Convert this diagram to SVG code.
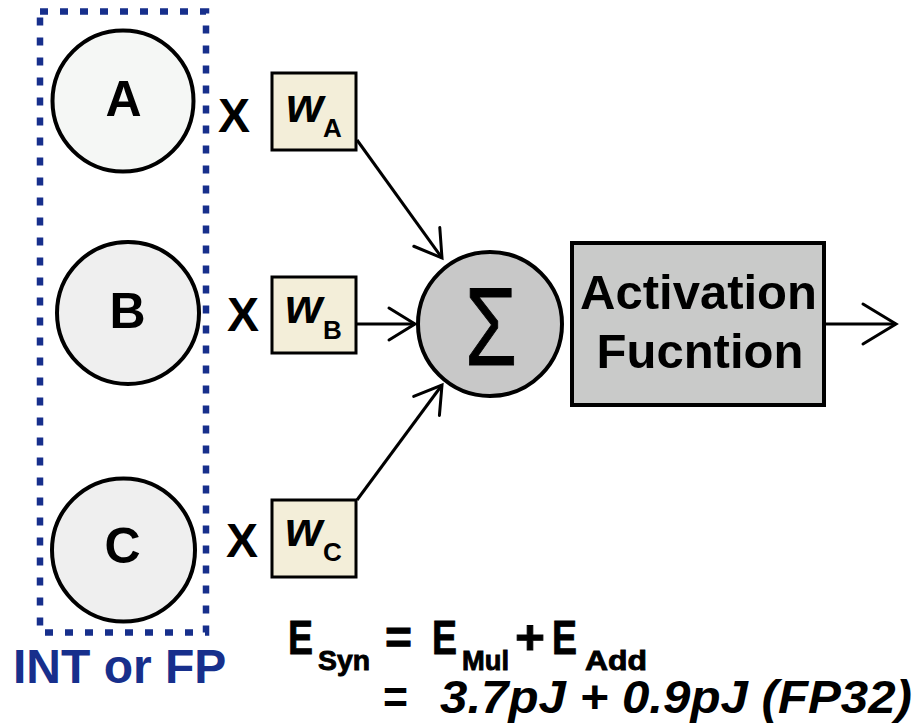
<svg xmlns="http://www.w3.org/2000/svg" width="920" height="724" viewBox="0 0 920 724">
<defs>
<style>
.t{font-family:"Liberation Sans",Arial,sans-serif;font-weight:bold;fill:#000}
.nar{stroke:#000;stroke-width:0.9}
.in{stroke:#000;stroke-width:4}
.wb{fill:#f3eed9;stroke:#000;stroke-width:3}
.con{stroke:#000;stroke-width:3;fill:none}
.ah{stroke:#000;stroke-width:3;fill:none;stroke-linecap:round;stroke-linejoin:miter}
</style>
<marker id="arr" markerUnits="userSpaceOnUse" markerWidth="40" markerHeight="40" viewBox="-30 -20 34 40" refX="0" refY="0" orient="auto">
<path d="M-26,-16 L0,0 L-26,16" class="ah"/>
</marker>
<marker id="arrBig" markerUnits="userSpaceOnUse" markerWidth="44" markerHeight="50" viewBox="-37 -25 41 50" refX="0" refY="0" orient="auto">
<path d="M-33,-20 L0,0 L-33,20" class="ah"/>
</marker>
</defs>
<rect width="920" height="724" fill="#fff"/>

<g id="group-box">
<rect x="40" y="11.5" width="166" height="621" fill="none" stroke="#172f8c" stroke-width="6.5" stroke-dasharray="8 12"/>
<text x="13" y="683" class="t" font-size="48" style="fill:#172f8c">INT or FP</text>
</g>

<g id="node-A">
<circle cx="123" cy="101" r="70.5" fill="#f5f7f5" class="in"/>
<text x="123.5" y="116" class="t" font-size="50" text-anchor="middle">A</text>
</g>
<g id="node-B">
<circle cx="128" cy="313" r="71" fill="#efefef" class="in"/>
<text x="127.5" y="328" class="t" font-size="50" text-anchor="middle">B</text>
</g>
<g id="node-C">
<circle cx="123.5" cy="550" r="71.5" fill="#efefef" class="in"/>
<text x="122.5" y="563" class="t" font-size="50" text-anchor="middle">C</text>
</g>

<g id="mul-A"><text x="218" y="132" class="t" font-size="48">X</text></g>
<g id="mul-B"><text x="227" y="331" class="t" font-size="48">X</text></g>
<g id="mul-C"><text x="226" y="557" class="t" font-size="48">X</text></g>

<g id="weight-A">
<rect x="272" y="73" width="84" height="77" class="wb"/>
<text x="286" y="122" class="t" font-size="48" font-style="italic">w</text>
<text x="323" y="137" class="t" font-size="26">A</text>
</g>
<g id="weight-B">
<rect x="272" y="277" width="84" height="76" class="wb"/>
<text x="285" y="323" class="t" font-size="48" font-style="italic">w</text>
<text x="323" y="339" class="t" font-size="26">B</text>
</g>
<g id="weight-C">
<rect x="272" y="500" width="84" height="77" class="wb"/>
<text x="285" y="546" class="t" font-size="48" font-style="italic">w</text>
<text x="323" y="561" class="t" font-size="26">C</text>
</g>

<g id="sum">
<circle cx="490" cy="324" r="72" fill="#c8c8c8" class="in"/>
<text x="465" y="365" font-family="'Liberation Sans',Arial,sans-serif" font-size="112" textLength="52" lengthAdjust="spacingAndGlyphs" stroke="#000" stroke-width="1">Σ</text>
</g>

<g id="activation">
<rect x="572" y="243" width="252" height="162" fill="#c9cac9" stroke="#000" stroke-width="4"/>
<text x="698.5" y="309" class="t" font-size="49" text-anchor="middle">Activation</text>
<text x="700" y="368" class="t" font-size="49" text-anchor="middle">Fucntion</text>
</g>

<g id="connectors">
<line x1="357" y1="140" x2="442" y2="258" class="con" marker-end="url(#arr)"/>
<line x1="356" y1="324" x2="415" y2="324" class="con" marker-end="url(#arr)"/>
<line x1="357" y1="500" x2="442" y2="385" class="con" marker-end="url(#arr)"/>
<line x1="824" y1="324" x2="896" y2="324" class="con" marker-end="url(#arrBig)"/>
</g>

<g id="equation">
<text x="288" y="654" class="t nar" font-size="49" textLength="25" lengthAdjust="spacingAndGlyphs">E</text>
<text x="318" y="670" class="t nar" font-size="28" textLength="52" lengthAdjust="spacingAndGlyphs">Syn</text>
<text x="385" y="654" class="t nar" font-size="49" textLength="27" lengthAdjust="spacingAndGlyphs">=</text>
<text x="432" y="654" class="t nar" font-size="49" textLength="25" lengthAdjust="spacingAndGlyphs">E</text>
<text x="462" y="670" class="t nar" font-size="28" textLength="47" lengthAdjust="spacingAndGlyphs">Mul</text>
<text x="515" y="654" class="t nar" font-size="49" textLength="30" lengthAdjust="spacingAndGlyphs">+</text>
<text x="552" y="654" class="t nar" font-size="49" textLength="25" lengthAdjust="spacingAndGlyphs">E</text>
<text x="585" y="670" class="t nar" font-size="28" textLength="62" lengthAdjust="spacingAndGlyphs">Add</text>
<text x="383" y="713" class="t" font-size="46" textLength="25" lengthAdjust="spacingAndGlyphs">=</text>
<text x="440" y="713" class="t" font-size="46" font-style="italic" textLength="472" lengthAdjust="spacingAndGlyphs">3.7pJ + 0.9pJ (FP32)</text>
</g>
</svg>
